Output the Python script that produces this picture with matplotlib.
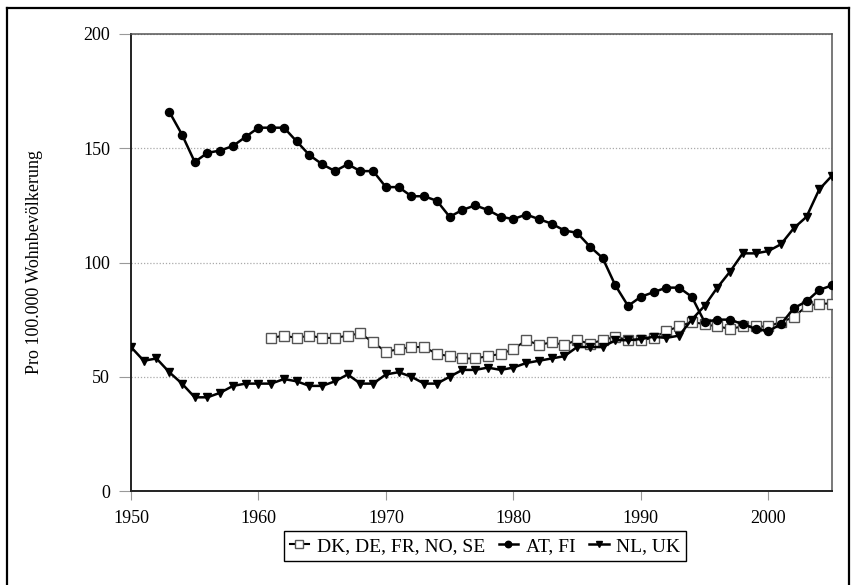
import matplotlib
matplotlib.use('Agg')
import matplotlib.pyplot as plt
from matplotlib.lines import Line2D

plt.rcParams['font.family'] = ['Liberation Serif', 'DejaVu Serif']

# Rates per 100,000 residents, by country group
years_dk = list(range(1961, 2006))
dk_de_fr_no_se = [67, 68, 67, 68, 67, 67, 68, 69, 65, 61,
                  62, 63, 63, 60, 59, 58, 58, 59, 60, 62,
                  66, 64, 65, 64, 66, 64.5, 66, 67.5, 66, 66,
                  67, 70, 72, 74, 73, 72, 71, 72, 72, 72,
                  74, 76, 81, 82, 82]

years_at = list(range(1953, 2006))
at_fi = [166, 156, 144, 148, 149, 151, 155, 159, 159, 159,
         153, 147, 143, 140, 143, 140, 140, 133, 133, 129,
         129, 127, 120, 123, 125, 123, 120, 119, 121, 119,
         117, 114, 113, 107, 102, 90, 81, 85, 87, 89,
         89, 85, 74, 75, 75, 73, 71, 70, 73, 80,
         83, 88, 90]

years_nl = list(range(1950, 2006))
nl_uk = [63, 57, 58, 52, 47, 41, 41, 43, 46, 47,
         47, 47, 49, 48, 46, 46, 48, 51, 47, 47,
         51, 52, 50, 47, 47, 50, 53, 53, 54, 53,
         54, 56, 57, 58, 59, 63, 63, 63, 66, 66,
         66.5, 67.5, 67, 68, 75, 81, 89, 96, 104, 104,
         105, 108, 115, 120, 132, 138]

labels = ['DK, DE, FR, NO, SE', 'AT, FI', 'NL, UK']

fig = plt.figure(figsize=(8.52, 5.85), dpi=100)
ax = fig.add_axes([131 / 852, 94 / 585, 701 / 852, 457 / 585])

ax.plot(years_dk, dk_de_fr_no_se, color='black', lw=1.5, marker='s',
        markersize=6.8, markerfacecolor='white', markeredgecolor='#555555',
        markeredgewidth=1.0, label=labels[0], zorder=3)
ax.plot(years_at, at_fi, color='black', lw=1.8, marker='o', markersize=5.8,
        label=labels[1], zorder=4)
ax.plot(years_nl, nl_uk, color='black', lw=1.8, marker='v', markersize=6.0,
        label=labels[2], zorder=4)

ax.set_xlim(1950, 2005)
ax.set_ylim(0, 200)
ax.set_xticks(range(1950, 2001, 10))
ax.set_yticks(range(0, 201, 50))
ax.grid(axis='y', linestyle=(0, (1, 1.5)), color='#aaaaaa', lw=0.9)
ax.set_axisbelow(True)

ax.tick_params(axis='y', direction='out', length=9, width=0.8, color='#999999',
               pad=6, labelsize=13)
ax.tick_params(axis='x', direction='out', length=6.5, width=0.8, color='#999999',
               pad=7, labelsize=13)

for side in ['left', 'bottom']:
    ax.spines[side].set_color('#222222')
    ax.spines[side].set_linewidth(1.4)
for side in ['top', 'right']:
    ax.spines[side].set_color('#555555')
    ax.spines[side].set_linewidth(1.1)

fig.text(35 / 852, 1 - 262 / 585, 'Pro 100.000 Wohnbevölkerung', rotation=90,
         ha='center', va='center', fontsize=13)

leg = fig.legend(loc='center', bbox_to_anchor=(485 / 852, 1 - 546 / 585), ncol=3,
                 fontsize=14, handlelength=1.0, handletextpad=0.4,
                 columnspacing=0.7, borderpad=0.3, fancybox=False,
                 framealpha=1, edgecolor='black', markerscale=0.8)
leg.get_frame().set_linewidth(1.0)

# outer frame, open at the bottom edge
x0, x1, y1 = 7 / 852, 849 / 852, 1 - 8 / 585
for xs, ys in [([x0, x0], [0, y1]), ([x0, x1], [y1, y1]), ([x1, x1], [y1, 0])]:
    fig.add_artist(Line2D(xs, ys, color='black', lw=1.6, transform=fig.transFigure))

fig.savefig('out.png', dpi=100)
